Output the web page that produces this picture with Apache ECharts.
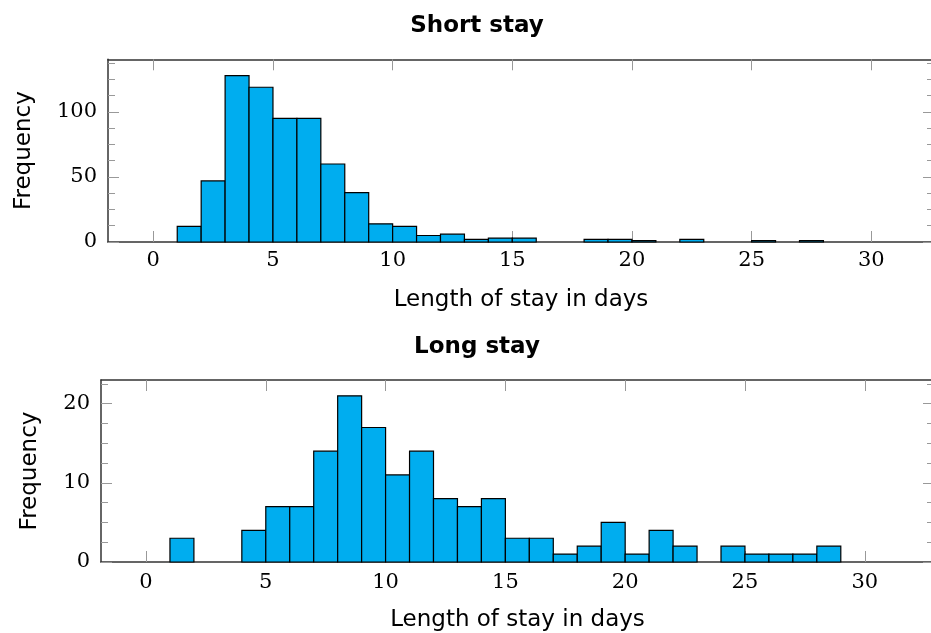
<!DOCTYPE html>
<html>
<head>
<meta charset="utf-8">
<script src="https://cdn.jsdelivr.net/npm/echarts@6/dist/echarts.min.js"></script>
<style>html,body{margin:0;padding:0;background:#fff}#chart{width:931px;height:633px}</style>
</head>
<body>
<div id="chart"></div>
<script>
// ---- data ----
const shortTitle = 'Short stay';
const longTitle = 'Long stay';
const xName = 'Length of stay in days';
const yName = 'Frequency';
const xTickValues = [0, 5, 10, 15, 20, 25, 30];

// bins of width 1 day, given by their left edge
const shortBinStarts = [1, 2, 3, 4, 5, 6, 7, 8, 9, 10, 11, 12, 13, 14, 15, 16, 17, 18, 19, 20, 21, 22, 23, 24, 25, 26, 27];
const shortCounts    = [12, 47, 128, 119, 95, 95, 60, 38, 14, 12, 5, 6, 2, 3, 3, 0, 0, 2, 2, 1, 0, 2, 0, 0, 1, 0, 1];
const shortYMajor = [0, 50, 100];
const shortYMinor = [12.5, 25, 37.5, 62.5, 75, 87.5, 112.5, 125, 137.5];

const longBinStarts = [1, 2, 3, 4, 5, 6, 7, 8, 9, 10, 11, 12, 13, 14, 15, 16, 17, 18, 19, 20, 21, 22, 23, 24, 25, 26, 27, 28];
const longCounts    = [3, 0, 0, 4, 7, 7, 14, 21, 17, 11, 14, 8, 7, 8, 3, 3, 1, 2, 5, 1, 4, 2, 0, 2, 1, 1, 1, 2];
const longYMajor = [0, 10, 20];
const longYMinor = [2.5, 5, 7.5, 12.5, 15, 17.5, 22.5];

// ---- styling ----
const BAR_FILL = '#00ADEF';
const LINE_COLOR = '#333';
const TICK_COLOR = '#999';
const SERIF = 'DejaVu Serif';
const SANS = 'DejaVu Sans';

const chart = echarts.init(document.getElementById('chart'), null, {renderer: 'canvas'});

function renderBin(params, api) {
  const x0 = api.value(0);
  const v = api.value(1);
  if (!v) return null;
  const pTop = api.coord([x0, v]);
  const pBot = api.coord([x0 + 1, 0]);
  return {
    type: 'rect',
    shape: {x: pTop[0], y: pTop[1], width: pBot[0] - pTop[0], height: pBot[1] - pTop[1]},
    style: {fill: BAR_FILL, stroke: '#000', lineWidth: 1.2}
  };
}

function xAxes(grid, min, max, labelMargin, nameGap) {
  return [
    {
      gridIndex: grid, type: 'value', position: 'bottom', min: min, max: max,
      name: xName, nameLocation: 'middle', nameGap: nameGap,
      nameTextStyle: {fontFamily: SANS, fontSize: 23, color: '#000'},
      axisLine: {show: true, onZero: false, lineStyle: {color: LINE_COLOR, width: 1.5}},
      axisTick: {show: true, inside: true, length: 11, customValues: xTickValues, lineStyle: {color: TICK_COLOR, width: 1}},
      axisLabel: {show: true, customValues: xTickValues, margin: labelMargin, fontFamily: SERIF, fontSize: 21, color: '#000'},
      splitLine: {show: false}
    },
    {
      gridIndex: grid, type: 'value', position: 'top', min: min, max: max,
      axisLine: {show: true, onZero: false, lineStyle: {color: LINE_COLOR, width: 1.5}},
      axisTick: {show: true, inside: true, length: 11, customValues: xTickValues, lineStyle: {color: TICK_COLOR, width: 1}},
      axisLabel: {show: false},
      splitLine: {show: false}
    }
  ];
}

function yAxes(grid, max, major, minor, nameGap) {
  const base = {gridIndex: grid, type: 'value', min: 0, max: max, splitLine: {show: false}};
  return [
    Object.assign({}, base, {
      position: 'left',
      name: yName, nameLocation: 'middle', nameGap: nameGap, nameRotate: 90,
      nameTextStyle: {fontFamily: SANS, fontSize: 23, color: '#000'},
      axisLine: {show: true, onZero: false, lineStyle: {color: LINE_COLOR, width: 1.5}},
      axisTick: {show: true, inside: true, length: 11, customValues: major, lineStyle: {color: TICK_COLOR, width: 1}},
      axisLabel: {show: true, customValues: major, margin: 11, fontFamily: SERIF, fontSize: 21, color: '#000'}
    }),
    Object.assign({}, base, {
      position: 'left',
      axisLine: {show: false, onZero: false},
      axisTick: {show: true, inside: true, length: 7, customValues: minor, lineStyle: {color: TICK_COLOR, width: 1}},
      axisLabel: {show: false}
    }),
    Object.assign({}, base, {
      position: 'right',
      axisLine: {show: true, onZero: false, lineStyle: {color: LINE_COLOR, width: 1.5}},
      axisTick: {show: true, inside: true, length: 11, customValues: major, lineStyle: {color: TICK_COLOR, width: 1}},
      axisLabel: {show: false}
    }),
    Object.assign({}, base, {
      position: 'right',
      axisLine: {show: false, onZero: false},
      axisTick: {show: true, inside: true, length: 7, customValues: minor, lineStyle: {color: TICK_COLOR, width: 1}},
      axisLabel: {show: false}
    })
  ];
}

const option = {
  backgroundColor: '#fff',
  animation: false,
  title: [
    {text: shortTitle, left: 472, top: 10, textAlign: 'center',
     textStyle: {fontFamily: SANS, fontSize: 23, fontWeight: 'bold', color: '#000'}},
    {text: longTitle, left: 472, top: 331, textAlign: 'center',
     textStyle: {fontFamily: SANS, fontSize: 23, fontWeight: 'bold', color: '#000'}}
  ],
  grid: [
    {left: 108, width: 826, top: 59.3, height: 182.7, outerBoundsMode: 'none', containLabel: false},
    {left: 101, width: 833, top: 380, height: 182, outerBoundsMode: 'none', containLabel: false}
  ],
  xAxis: [].concat(
    xAxes(0, -1.893, 32.62, 8, 47),
    xAxes(1, -1.878, 32.89, 10, 47)
  ),
  yAxis: [].concat(
    yAxes(0, 140.5, shortYMajor, shortYMinor, 72),
    yAxes(1, 23, longYMajor, longYMinor, 59)
  ),
  series: [
    {
      name: shortTitle, type: 'custom', xAxisIndex: 0, yAxisIndex: 0,
      renderItem: renderBin, encode: {x: 0, y: 1},
      data: shortBinStarts.map((s, i) => [s, shortCounts[i]])
    },
    {
      name: longTitle, type: 'custom', xAxisIndex: 2, yAxisIndex: 4,
      renderItem: renderBin, encode: {x: 0, y: 1},
      data: longBinStarts.map((s, i) => [s, longCounts[i]])
    }
  ]
};
chart.setOption(option);
</script>
</body>
</html>
